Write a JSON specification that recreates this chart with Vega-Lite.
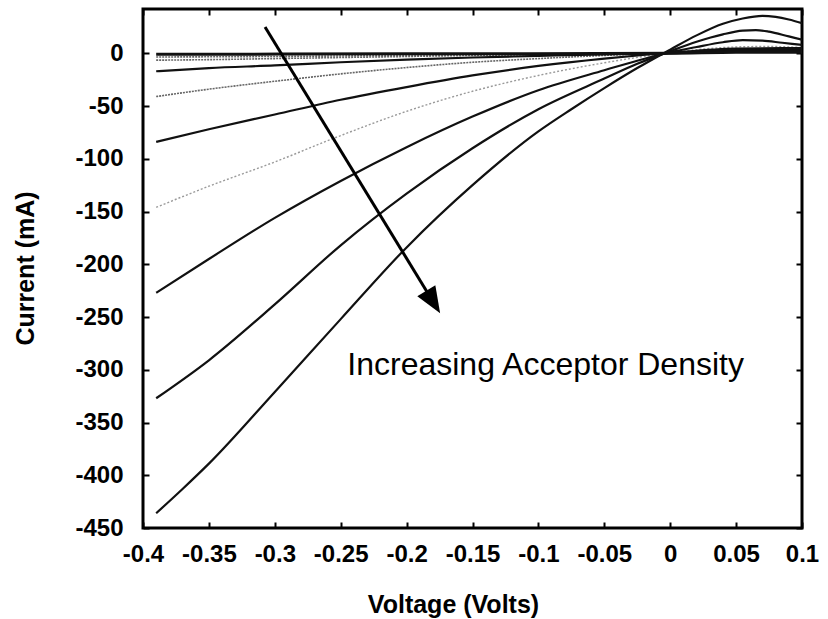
{
  "$schema": "https://vega.github.io/schema/vega-lite/v6.json",
  "autosize": {"type": "none"},
  "width": 659,
  "height": 519,
  "padding": {"left": 143, "top": 9, "right": 26, "bottom": 91},
  "background": "white",
  "config": {
    "view": {"stroke": "black", "strokeWidth": 3},
    "axis": {
      "domain": false,
      "grid": false,
      "tickColor": "black",
      "tickWidth": 2,
      "labelColor": "black",
      "titleColor": "black",
      "labelFont": "Liberation Sans",
      "labelFontWeight": "bold",
      "labelFontSize": 24,
      "titleFont": "Liberation Sans",
      "titleFontWeight": "bold",
      "titleFontSize": 25
    }
  },
  "datasets": {
    "curves": [
      {"s": "A", "v": -0.39, "i": -1}, {"s": "A", "v": -0.2, "i": -0.5}, {"s": "A", "v": 0, "i": 0}, {"s": "A", "v": 0.05, "i": 1}, {"s": "A", "v": 0.1, "i": 1},
      {"s": "B", "v": -0.39, "i": -3.5}, {"s": "B", "v": -0.3, "i": -3}, {"s": "B", "v": -0.2, "i": -2}, {"s": "B", "v": -0.1, "i": -1}, {"s": "B", "v": 0, "i": 0}, {"s": "B", "v": 0.05, "i": 1.5}, {"s": "B", "v": 0.1, "i": 1.5},
      {"s": "C", "v": -0.39, "i": -6.5}, {"s": "C", "v": -0.35, "i": -6}, {"s": "C", "v": -0.3, "i": -5}, {"s": "C", "v": -0.25, "i": -4}, {"s": "C", "v": -0.2, "i": -3}, {"s": "C", "v": -0.15, "i": -2}, {"s": "C", "v": -0.1, "i": -1.2}, {"s": "C", "v": -0.05, "i": -0.5}, {"s": "C", "v": 0, "i": 0}, {"s": "C", "v": 0.05, "i": 2}, {"s": "C", "v": 0.1, "i": 2.5},
      {"s": "D", "v": -0.39, "i": -17}, {"s": "D", "v": -0.35, "i": -14}, {"s": "D", "v": -0.3, "i": -11.5}, {"s": "D", "v": -0.25, "i": -8.5}, {"s": "D", "v": -0.2, "i": -6}, {"s": "D", "v": -0.15, "i": -4}, {"s": "D", "v": -0.1, "i": -2.5}, {"s": "D", "v": -0.05, "i": -1}, {"s": "D", "v": 0, "i": 0}, {"s": "D", "v": 0.05, "i": 3}, {"s": "D", "v": 0.1, "i": 3},
      {"s": "E", "v": -0.39, "i": -41}, {"s": "E", "v": -0.35, "i": -34}, {"s": "E", "v": -0.3, "i": -26.5}, {"s": "E", "v": -0.25, "i": -19.5}, {"s": "E", "v": -0.2, "i": -13.5}, {"s": "E", "v": -0.15, "i": -8.5}, {"s": "E", "v": -0.1, "i": -5}, {"s": "E", "v": -0.05, "i": -2}, {"s": "E", "v": 0, "i": 0.5}, {"s": "E", "v": 0.05, "i": 3.5}, {"s": "E", "v": 0.1, "i": 4},
      {"s": "F", "v": -0.39, "i": -84}, {"s": "F", "v": -0.35, "i": -72}, {"s": "F", "v": -0.3, "i": -58}, {"s": "F", "v": -0.25, "i": -44}, {"s": "F", "v": -0.2, "i": -32}, {"s": "F", "v": -0.15, "i": -21}, {"s": "F", "v": -0.1, "i": -12}, {"s": "F", "v": -0.05, "i": -5}, {"s": "F", "v": 0, "i": 0.5}, {"s": "F", "v": 0.05, "i": 4.5}, {"s": "F", "v": 0.1, "i": 5},
      {"s": "G", "v": -0.39, "i": -146}, {"s": "G", "v": -0.35, "i": -126}, {"s": "G", "v": -0.3, "i": -103}, {"s": "G", "v": -0.25, "i": -78}, {"s": "G", "v": -0.2, "i": -55}, {"s": "G", "v": -0.15, "i": -36}, {"s": "G", "v": -0.1, "i": -21}, {"s": "G", "v": -0.05, "i": -9}, {"s": "G", "v": 0, "i": 0.5}, {"s": "G", "v": 0.025, "i": 4}, {"s": "G", "v": 0.05, "i": 6}, {"s": "G", "v": 0.075, "i": 6.5}, {"s": "G", "v": 0.1, "i": 5.5},
      {"s": "H", "v": -0.39, "i": -227}, {"s": "H", "v": -0.35, "i": -195}, {"s": "H", "v": -0.3, "i": -156}, {"s": "H", "v": -0.25, "i": -121}, {"s": "H", "v": -0.2, "i": -89}, {"s": "H", "v": -0.15, "i": -60}, {"s": "H", "v": -0.1, "i": -35}, {"s": "H", "v": -0.05, "i": -16}, {"s": "H", "v": -0.025, "i": -7}, {"s": "H", "v": 0, "i": 1}, {"s": "H", "v": 0.02, "i": 6}, {"s": "H", "v": 0.04, "i": 10.5}, {"s": "H", "v": 0.055, "i": 12.5}, {"s": "H", "v": 0.07, "i": 12}, {"s": "H", "v": 0.085, "i": 10}, {"s": "H", "v": 0.1, "i": 8},
      {"s": "I", "v": -0.39, "i": -327}, {"s": "I", "v": -0.35, "i": -291}, {"s": "I", "v": -0.3, "i": -238}, {"s": "I", "v": -0.25, "i": -182}, {"s": "I", "v": -0.2, "i": -133}, {"s": "I", "v": -0.15, "i": -90}, {"s": "I", "v": -0.1, "i": -53}, {"s": "I", "v": -0.05, "i": -24}, {"s": "I", "v": -0.025, "i": -10}, {"s": "I", "v": 0, "i": 2}, {"s": "I", "v": 0.02, "i": 11}, {"s": "I", "v": 0.04, "i": 18}, {"s": "I", "v": 0.055, "i": 21.5}, {"s": "I", "v": 0.065, "i": 22}, {"s": "I", "v": 0.075, "i": 20.5}, {"s": "I", "v": 0.09, "i": 16}, {"s": "I", "v": 0.1, "i": 13},
      {"s": "J", "v": -0.39, "i": -436}, {"s": "J", "v": -0.37, "i": -413}, {"s": "J", "v": -0.35, "i": -389}, {"s": "J", "v": -0.3, "i": -321}, {"s": "J", "v": -0.25, "i": -252}, {"s": "J", "v": -0.2, "i": -184}, {"s": "J", "v": -0.15, "i": -125}, {"s": "J", "v": -0.1, "i": -74}, {"s": "J", "v": -0.075, "i": -53}, {"s": "J", "v": -0.05, "i": -33}, {"s": "J", "v": -0.025, "i": -14}, {"s": "J", "v": 0, "i": 3.5}, {"s": "J", "v": 0.02, "i": 17}, {"s": "J", "v": 0.04, "i": 28}, {"s": "J", "v": 0.055, "i": 33}, {"s": "J", "v": 0.07, "i": 35.5}, {"s": "J", "v": 0.08, "i": 34.5}, {"s": "J", "v": 0.09, "i": 32}, {"s": "J", "v": 0.1, "i": 28.5}
    ],
    "arrow": [{"v1": -0.3074, "i1": 24.9, "v2": -0.1798, "i2": -235.7}],
    "label": [{"v": -0.245, "i": -295.5, "t": "Increasing Acceptor Density"}]
  },
  "resolve": {"axis": {"x": "independent", "y": "independent"}},
  "layer": [
    {
      "data": {"name": "curves"},
      "transform": [{"filter": {"field": "s", "oneOf": ["B", "C", "E"]}}],
      "mark": {"type": "line", "color": "#666666", "strokeWidth": 1.6, "strokeDash": [2, 1], "clip": true, "interpolate": "monotone"},
      "encoding": {
        "x": {"field": "v", "type": "quantitative", "scale": {"domain": [-0.4, 0.1], "nice": false, "zero": false},
          "axis": {"orient": "bottom", "title": "Voltage (Volts)", "values": [-0.4, -0.35, -0.3, -0.25, -0.2, -0.15, -0.1, -0.05, 0, 0.05, 0.1], "labelExpr": "replace(format(datum.value, '~g'), '\u2212', '-')", "labelFlush": false, "labelOverlap": false, "tickSize": -6, "labelPadding": 20, "titleX": 310, "titleY": 84, "titleBaseline": "alphabetic"}},
        "y": {"field": "i", "type": "quantitative", "scale": {"domain": [-450, 42], "nice": false, "zero": false},
          "axis": {"orient": "left", "title": "Current (mA)", "values": [-450, -400, -350, -300, -250, -200, -150, -100, -50, 0], "labelExpr": "replace(format(datum.value, '~g'), '\u2212', '-')", "labelOverlap": false, "tickSize": -6, "labelPadding": 26, "titleX": -118, "titleY": 259, "titleAngle": -90, "titleBaseline": "middle", "titleAlign": "center"}},
        "detail": {"field": "s"}
      }
    },
    {
      "data": {"name": "curves"},
      "transform": [{"filter": {"field": "s", "oneOf": ["G"]}}],
      "mark": {"type": "line", "color": "#9a9a9a", "strokeWidth": 1.4, "strokeDash": [2, 2], "clip": true, "interpolate": "monotone"},
      "encoding": {
        "x": {"field": "v", "type": "quantitative", "axis": null},
        "y": {"field": "i", "type": "quantitative", "axis": null},
        "detail": {"field": "s"}
      }
    },
    {
      "data": {"name": "curves"},
      "transform": [{"filter": {"field": "s", "oneOf": ["D", "F", "H", "I", "J"]}}],
      "mark": {"type": "line", "color": "#111111", "strokeWidth": 2.2, "clip": true, "interpolate": "monotone"},
      "encoding": {
        "x": {"field": "v", "type": "quantitative", "axis": null},
        "y": {"field": "i", "type": "quantitative", "axis": null},
        "detail": {"field": "s"}
      }
    },
    {
      "data": {"name": "curves"},
      "transform": [{"filter": {"field": "s", "oneOf": ["A"]}}],
      "mark": {"type": "line", "color": "#111111", "strokeWidth": 3, "clip": true, "interpolate": "monotone"},
      "encoding": {
        "x": {"field": "v", "type": "quantitative", "axis": null},
        "y": {"field": "i", "type": "quantitative", "axis": null},
        "detail": {"field": "s"}
      }
    },
    {
      "data": {"name": "arrow"},
      "mark": {"type": "rule", "color": "black", "strokeWidth": 3},
      "encoding": {
        "x": {"field": "v1", "type": "quantitative", "axis": {"orient": "top", "labels": false, "title": null, "tickSize": -6, "values": [-0.4, -0.35, -0.3, -0.25, -0.2, -0.15, -0.1, -0.05, 0, 0.05, 0.1]}},
        "y": {"field": "i1", "type": "quantitative", "axis": {"orient": "right", "labels": false, "title": null, "tickSize": -6, "values": [-450, -400, -350, -300, -250, -200, -150, -100, -50, 0]}},
        "x2": {"field": "v2"},
        "y2": {"field": "i2"}
      }
    },
    {
      "data": {"name": "arrow"},
      "mark": {"type": "point", "shape": "M0,-1L0.8,1L-0.8,1Z", "filled": true, "color": "black", "opacity": 1, "size": 700, "angle": 148.5},
      "encoding": {
        "x": {"field": "v2", "type": "quantitative", "axis": null},
        "y": {"field": "i2", "type": "quantitative", "axis": null}
      }
    },
    {
      "data": {"name": "label"},
      "mark": {"type": "text", "align": "left", "baseline": "middle", "font": "Liberation Sans", "fontSize": 32, "color": "black"},
      "encoding": {
        "x": {"field": "v", "type": "quantitative", "axis": null},
        "y": {"field": "i", "type": "quantitative", "axis": null},
        "text": {"field": "t"}
      }
    }
  ]
}
